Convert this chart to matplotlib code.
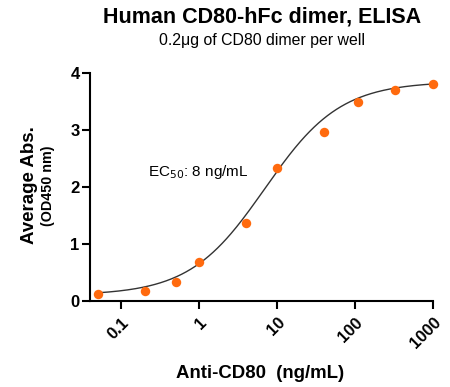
import numpy as np
import matplotlib
matplotlib.use("Agg")
import matplotlib.pyplot as plt

plt.rcParams['font.family'] = ['Liberation Sans', 'DejaVu Sans']

conc = [0.05, 0.2, 0.5, 1.0, 4.0, 10.0, 40.0, 110.0, 330.0, 1000.0]
absorb = [0.13, 0.18, 0.34, 0.68, 1.37, 2.33, 2.97, 3.50, 3.70, 3.81]
xticks = [0.1, 1, 10, 100, 1000]
xticklabels = ["0.1", "1", "10", "100", "1000"]
yticks = [0, 1, 2, 3, 4]

# 4PL fit parameters
bottom, top, ec50, hill = 0.10, 3.85, 7.0, 0.90

fig = plt.figure(figsize=(4.5, 3.87), dpi=100)
ax = fig.add_axes([90/450, 1-301/387, (433-90)/450, (301-73)/387])

xs = np.logspace(np.log10(conc[0]), np.log10(conc[-1]), 300)
ys = bottom + (top - bottom) / (1 + (ec50 / xs) ** hill)
ax.plot(xs, ys, color='#333333', lw=1.0, zorder=2)
ax.plot(conc, absorb, 'o', color='#FF6A0E', ms=6.8, mec='none', zorder=3, clip_on=False)

ax.set_xscale('log')
ax.set_xlim(0.04, 1000)
ax.set_ylim(0, 4)
ax.set_xticks(xticks)
ax.set_xticklabels(xticklabels, rotation=45, ha='right', va='top', rotation_mode='anchor')
ax.minorticks_off()
ax.set_yticks(yticks)
for s in ['top', 'right']:
    ax.spines[s].set_visible(False)
for s in ['left', 'bottom']:
    ax.spines[s].set_linewidth(1.5)
ax.tick_params(width=1.5, length=5.5, labelsize=12, pad=2)
ax.tick_params(axis='x', pad=4.5)
for lab in ax.get_xticklabels() + ax.get_yticklabels():
    lab.set_fontweight('bold')

fig.text(262/450, 1-17.5/387, "Human CD80-hFc dimer, ELISA", ha='center', va='center',
         fontsize=15.5, fontweight='bold')
fig.text(262/450, 1-41/387, "0.2μg of CD80 dimer per well", ha='center', va='center',
         fontsize=11.4)
fig.text(260.5/450, 1-374/387, "Anti-CD80  (ng/mL)", ha='center', va='center',
         fontsize=13.4, fontweight='bold')
fig.text(29/450, 1-185/387, "Average Abs.", ha='center', va='center', rotation=90,
         fontsize=13.5, fontweight='bold')
fig.text(48/450, 1-186/387, "(OD450 nm)", ha='center', va='center', rotation=90,
         fontsize=10.3, fontweight='bold')
fig.text(148/450, 1-172/387, "EC$_{50}$: 8 ng/mL", ha='left', va='center', fontsize=11)

fig.savefig("out.png", dpi=100)
